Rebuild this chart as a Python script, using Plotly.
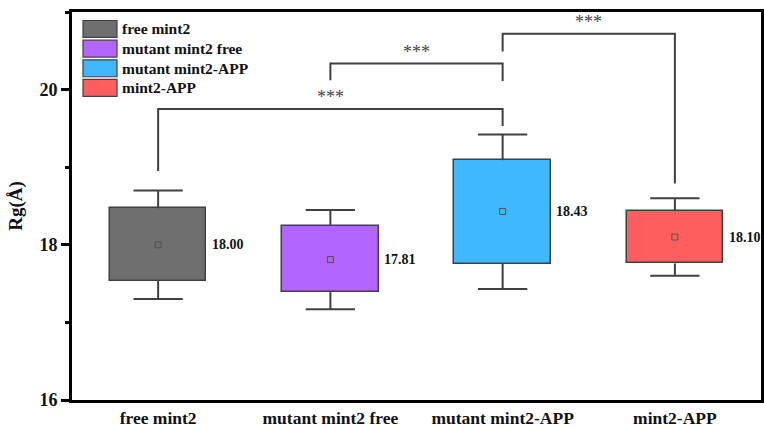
import plotly.graph_objects as go

categories = ["free mint2", "mutant mint2 free", "mutant mint2-APP", "mint2-APP"]
colors = ["#6f6f6f", "#b266ff", "#40b8ff", "#ff5e5e"]
q1 = [17.54, 17.39, 17.755, 17.76]
q3 = [18.47, 18.245, 19.09, 18.435]
whisker_low = [17.30, 17.17, 17.43, 17.60]
whisker_high = [18.70, 18.45, 19.42, 18.60]
means = [18.00, 17.81, 18.43, 18.10]
mean_labels = ["18.00", "17.81", "18.43", "18.10"]

# significance brackets: (left index, right index), bar height, leg end left, leg end right
sig_pairs = [(0, 2), (1, 2), (2, 3)]
sig_height = [19.75, 20.335, 20.72]
sig_left_end = [18.95, 20.12, 20.49]
sig_right_end = [19.53, 20.11, 18.79]
sig_text = ["***", "***", "***"]

y_ticks = [16, 18, 20]
FONT = "Liberation Serif, Times New Roman, serif"
DARK = "#404040"
BOX_W = 0.56
CAP = 0.143

xs = list(range(len(categories)))
fig = go.Figure()

# boxes
fig.add_trace(go.Bar(
    x=xs, base=q1, y=[b - a for a, b in zip(q1, q3)], width=BOX_W,
    marker=dict(color=colors, line=dict(color=DARK, width=1.5)),
    showlegend=False, hoverinfo="skip"))

# whiskers
wx, wy = [], []
for i in xs:
    wx += [i, i, None, i - CAP, i + CAP, None, i, i, None, i - CAP, i + CAP, None]
    wy += [q3[i], whisker_high[i], None, whisker_high[i], whisker_high[i], None,
           q1[i], whisker_low[i], None, whisker_low[i], whisker_low[i], None]
fig.add_trace(go.Scatter(x=wx, y=wy, mode="lines", line=dict(color=DARK, width=2),
                         showlegend=False, hoverinfo="skip"))

# means
fig.add_trace(go.Scatter(x=xs, y=means, mode="markers",
                         marker=dict(symbol="square-open", size=6, color="#505050",
                                     line=dict(width=1)),
                         showlegend=False, hoverinfo="skip"))

# mean labels
for i in xs:
    fig.add_annotation(x=i + BOX_W / 2 + 0.02, y=means[i], text=mean_labels[i],
                       xanchor="left", yanchor="middle", showarrow=False,
                       font=dict(family=FONT, size=14, color="#111", weight="bold"))

# significance brackets
bx, by = [], []
for k, (a, b) in enumerate(sig_pairs):
    bx += [a, a, b, b, None]
    by += [sig_left_end[k], sig_height[k], sig_height[k], sig_right_end[k], None]
    fig.add_annotation(x=(a + b) / 2, y=sig_height[k], text=sig_text[k],
                       yanchor="bottom", yshift=0, showarrow=False,
                       font=dict(family=FONT, size=18, color="#444"))
fig.add_trace(go.Scatter(x=bx, y=by, mode="lines", line=dict(color=DARK, width=2),
                         showlegend=False, hoverinfo="skip"))

# manual legend (paper coordinates)
plot_h = 389.0
plot_w = 689.0
for k, name in enumerate(categories):
    yc = 1 - (17 + 19.7 * k) / plot_h
    hh = 8.5 / plot_h
    fig.add_shape(type="rect", xref="paper", yref="paper",
                  x0=11 / plot_w, x1=45 / plot_w, y0=yc - hh, y1=yc + hh,
                  fillcolor=colors[k], line=dict(color=DARK, width=1.2))
    fig.add_annotation(xref="paper", yref="paper", x=48 / plot_w, y=yc, text=name,
                       xanchor="left", yanchor="middle", showarrow=False,
                       font=dict(family=FONT, size=15.5, color="#111", weight="bold"))

fig.update_layout(
    width=764, height=428,
    margin=dict(l=72, r=3, t=12, b=28, autoexpand=False),
    plot_bgcolor="white", paper_bgcolor="white",
    font=dict(family=FONT, size=14, color="#111"),
    bargap=0,
)
fig.update_xaxes(range=[-0.5, 3.5], tickvals=xs, ticktext=categories,
                 showgrid=False, zeroline=False, showline=True, linecolor="black",
                 linewidth=3, mirror=True, ticks="", ticklabelstandoff=0,
                 tickfont=dict(family=FONT, size=17.5, color="#111", weight="bold"))
fig.update_yaxes(range=[16, 21], tickvals=y_ticks, showgrid=False, zeroline=False,
                 showline=True, linecolor="black", linewidth=3, mirror=True,
                 ticks="outside", ticklen=8, tickwidth=3, tickcolor="black",
                 minor=dict(dtick=1, ticks="outside", ticklen=4, tickwidth=3,
                            tickcolor="black", showgrid=False),
                 tickfont=dict(family=FONT, size=18, color="#111", weight="bold"),
                 title=dict(text="Rg(Å)", standoff=12,
                            font=dict(family=FONT, size=19, color="#111", weight="bold")))

fig.write_html("out.html", config={"displayModeBar": False},
               post_script="document.body.style.margin='0';document.body.style.overflow='hidden';")
